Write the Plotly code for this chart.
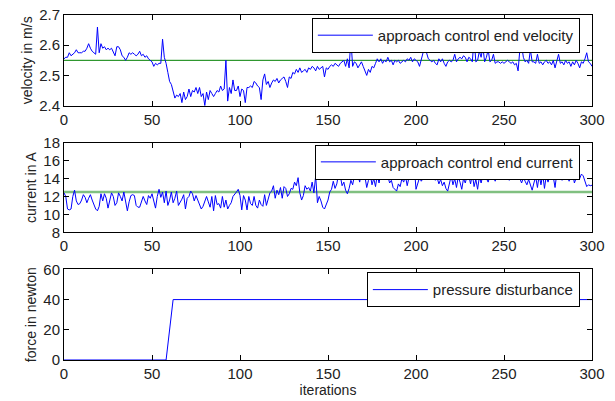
import plotly.graph_objects as go

iterations = list(range(301))

velocity = [
 2.555,2.56,2.56,2.575,2.565,2.57,2.575,2.585,2.575,2.575,
 2.575,2.58,2.58,2.59,2.605,2.59,2.58,2.575,2.57,2.66,
 2.575,2.605,2.59,2.595,2.585,2.59,2.585,2.59,2.575,2.565,
 2.595,2.595,2.585,2.565,2.56,2.55,2.56,2.575,2.57,2.575,
 2.57,2.565,2.57,2.58,2.565,2.57,2.56,2.565,2.555,2.55,
 2.545,2.53,2.54,2.535,2.54,2.54,2.62,2.56,2.54,2.51,
 2.48,2.47,2.445,2.425,2.435,2.43,2.44,2.41,2.445,2.42,
 2.43,2.455,2.43,2.45,2.445,2.46,2.44,2.46,2.43,2.44,
 2.40,2.445,2.42,2.45,2.44,2.43,2.44,2.45,2.445,2.465,
 2.45,2.455,2.55,2.415,2.46,2.44,2.485,2.45,2.45,2.465,
 2.43,2.455,2.45,2.41,2.46,2.46,2.465,2.46,2.48,2.475,
 2.465,2.46,2.42,2.485,2.505,2.47,2.48,2.46,2.475,2.485,
 2.48,2.49,2.475,2.485,2.49,2.495,2.48,2.46,2.495,2.49,
 2.51,2.505,2.52,2.51,2.525,2.51,2.515,2.52,2.51,2.525,
 2.52,2.53,2.525,2.515,2.53,2.52,2.525,2.53,2.495,2.525,
 2.52,2.53,2.535,2.53,2.54,2.535,2.53,2.54,2.545,2.55,
 2.53,2.555,2.525,2.62,2.53,2.545,2.54,2.525,2.535,2.545,
 2.53,2.515,2.50,2.52,2.51,2.53,2.525,2.54,2.555,2.545,
 2.555,2.54,2.55,2.545,2.56,2.545,2.55,2.535,2.55,2.545,
 2.55,2.54,2.545,2.55,2.545,2.555,2.55,2.56,2.545,2.555,
 2.55,2.545,2.53,2.555,2.575,2.625,2.575,2.555,2.55,2.545,
 2.55,2.54,2.535,2.555,2.545,2.555,2.54,2.53,2.545,2.55,
 2.545,2.55,2.57,2.545,2.555,2.56,2.555,2.565,2.56,2.545,
 2.56,2.555,2.545,2.625,2.545,2.55,2.58,2.56,2.595,2.545,
 2.56,2.585,2.545,2.55,2.57,2.54,2.545,2.545,2.54,2.545,
 2.54,2.545,2.55,2.545,2.54,2.545,2.535,2.54,2.515,2.585,
 2.60,2.56,2.545,2.55,2.54,2.585,2.545,2.545,2.54,2.57,
 2.54,2.545,2.535,2.545,2.55,2.54,2.545,2.535,2.55,2.525,
 2.545,2.57,2.54,2.545,2.535,2.55,2.54,2.545,2.53,2.545,
 2.535,2.55,2.54,2.525,2.545,2.54,2.555,2.575,2.545,2.54,
 2.53]

current = [
 12.4,12.0,10.6,10.5,10.6,12.0,12.7,11.5,11.1,11.2,
 11.6,12.2,11.9,11.3,11.8,12.2,11.6,11.0,10.6,10.4,
 10.9,12.3,11.5,12.3,11.8,10.7,11.5,12.4,12.0,11.0,
 11.3,12.4,12.0,11.5,12.5,11.2,10.4,11.4,12.1,12.2,
 12.1,11.0,10.8,10.8,11.3,12.0,11.5,11.1,12.1,11.8,
 12.3,11.6,10.7,12.0,12.8,11.9,12.5,11.3,12.6,11.0,
 11.6,12.5,11.3,11.8,12.6,11.0,11.3,11.7,12.2,10.6,
 11.8,12.0,12.6,12.3,11.5,12.1,11.6,11.0,10.6,10.9,
 11.4,12.0,11.4,10.8,12.0,10.4,12.1,11.1,11.2,10.7,
 12.0,10.8,11.6,10.6,11.0,11.3,12.0,12.2,12.5,12.8,
 12.1,10.5,12.1,11.6,10.5,12.0,11.2,11.0,12.0,11.0,
 10.7,11.6,11.1,10.9,12.2,11.0,11.6,12.4,12.6,13.2,
 11.8,12.7,12.2,13.0,11.8,13.1,12.9,12.0,12.3,12.9,
 12.8,13.6,13.2,14.1,12.4,11.6,12.1,13.2,12.8,13.0,
 12.6,13.6,12.4,14.3,11.3,12.0,11.5,10.8,10.6,11.2,
 11.6,12.5,12.8,13.7,12.9,13.4,14.5,14.3,13.2,13.6,
 12.7,12.3,12.9,13.8,13.3,14.3,13.9,14.4,13.6,14.8,
 13.9,14.2,13.0,13.8,14.5,13.3,14.0,13.1,14.4,13.5,
 14.6,14.2,14.8,13.9,14.3,13.5,13.8,13.0,12.8,12.6,
 13.4,13.1,14.0,13.6,14.3,13.2,14.1,13.9,14.6,15.4,
 12.8,13.5,14.1,13.7,14.0,14.3,13.9,14.5,14.0,14.2,
 14.8,13.8,14.1,13.4,13.9,13.2,13.6,12.9,12.6,13.5,
 14.3,13.3,14.0,13.0,14.2,13.6,12.8,14.0,13.5,14.3,
 14.3,13.4,14.5,13.1,13.9,12.8,14.2,13.5,14.4,13.9,
 14.0,13.6,14.3,13.9,14.2,13.7,14.4,14.1,14.5,14.9,
 14.3,14.0,14.4,13.8,14.2,13.9,14.3,14.8,14.2,14.0,
 13.5,14.1,13.7,13.3,13.9,13.2,12.7,13.5,14.2,13.0,
 14.4,13.3,14.5,12.9,14.3,13.6,14.1,14.8,14.2,13.0,
 14.6,14.2,14.5,13.8,14.4,14.1,14.3,13.7,14.5,14.6,
 13.5,14.2,14.6,14.0,14.5,14.3,13.8,13.1,13.3,13.2,
 13.25]

force_x = [0, 58, 62, 300]
force_y = [0, 0, 40, 40]

velocity_ref = 2.55
current_ref = 12.5
x_range = [0, 300]

FONT = "Liberation Sans, Arial, Helvetica, sans-serif"

fig = go.Figure()
fig.add_trace(go.Scatter(x=x_range, y=[velocity_ref, velocity_ref], mode="lines",
                         line=dict(color="#008000", width=1), showlegend=False,
                         xaxis="x", yaxis="y"))
fig.add_trace(go.Scatter(x=iterations, y=velocity, mode="lines",
                         line=dict(color="#0000ff", width=1),
                         name="approach control end velocity", legend="legend",
                         xaxis="x", yaxis="y"))
fig.add_trace(go.Scatter(x=x_range, y=[current_ref, current_ref], mode="lines",
                         line=dict(color="#80c080", width=2.5), showlegend=False,
                         xaxis="x2", yaxis="y2"))
fig.add_trace(go.Scatter(x=iterations, y=current, mode="lines",
                         line=dict(color="#0000ff", width=1),
                         name="approach control end current", legend="legend2",
                         xaxis="x2", yaxis="y2"))
fig.add_trace(go.Scatter(x=force_x, y=force_y, mode="lines",
                         line=dict(color="#0000ff", width=1),
                         name="pressure disturbance", legend="legend3",
                         xaxis="x3", yaxis="y3"))

axis_common = dict(showline=True, linecolor="black", linewidth=1, mirror="ticks",
                   ticks="inside", ticklen=5, tickcolor="black", showgrid=False,
                   zeroline=False, tickfont=dict(family=FONT, size=15, color="#222"))

ytitle_font = dict(family=FONT, size=14, color="#222")
xticks = [0, 50, 100, 150, 200, 250, 300]
fig.update_layout(
    width=615, height=401,
    margin=dict(l=64, r=23, t=6, b=41),
    plot_bgcolor="white", paper_bgcolor="white",
    font=dict(family=FONT, color="#222"),
    xaxis=dict(domain=[0, 1], anchor="y", range=x_range, tickvals=xticks, **axis_common),
    yaxis=dict(domain=[0.7373, 1], anchor="x", range=[2.4, 2.7],
               tickvals=[2.4, 2.5, 2.6, 2.7], tickformat=".1f",
               title=dict(text="velocity in m/s", font=ytitle_font, standoff=3),
               **axis_common),
    xaxis2=dict(domain=[0, 1], anchor="y2", range=x_range, tickvals=xticks, **axis_common),
    yaxis2=dict(domain=[0.3701, 0.6299], anchor="x2", range=[8, 18],
                tickvals=[8, 10, 12, 14, 16, 18],
                title=dict(text="current in A", font=ytitle_font, standoff=3),
                **axis_common),
    xaxis3=dict(domain=[0, 1], anchor="y3", range=x_range, tickvals=xticks,
                title=dict(text="iterations", font=ytitle_font, standoff=0),
                **axis_common),
    yaxis3=dict(domain=[0, 0.2627], anchor="x3", range=[0, 60],
                tickvals=[0, 20, 40, 60],
                title=dict(text="force in newton", font=ytitle_font, standoff=3),
                **axis_common),
)

leg_common = dict(xanchor="right", yanchor="top", bgcolor="white", bordercolor="black",
                  borderwidth=1, font=dict(family=FONT, size=15, color="#222"),
                  itemwidth=55, tracegroupgap=0)
fig.update_layout(
    legend=dict(x=0.977, y=0.9915, **leg_common),
    legend2=dict(x=0.977, y=0.6243, **leg_common),
    legend3=dict(x=0.977, y=0.254, **leg_common),
)

fig.write_html("out.html")
